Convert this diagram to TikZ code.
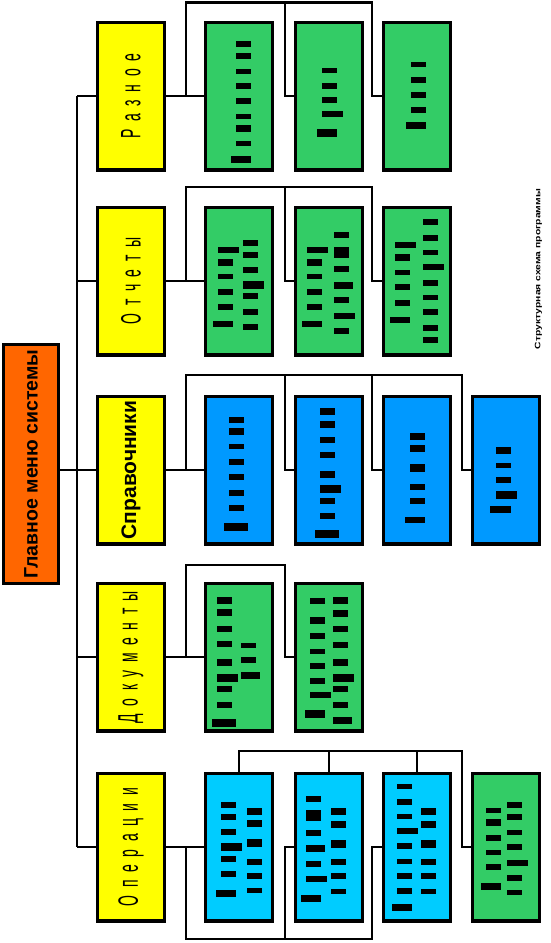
\documentclass[tikz,border=0pt]{standalone}
\usepackage{fontspec}
\usepackage{graphicx}
\setmainfont{Liberation Sans}
\definecolor{cOrange}{HTML}{FF6600}
\definecolor{cYellow}{HTML}{FFFF00}
\definecolor{cGreen}{HTML}{33CC66}
\definecolor{cBlue}{HTML}{0099FF}
\definecolor{cCyan}{HTML}{00CCFF}
\newcommand{\lsp}{\hspace{15pt}}
\begin{document}
\begin{tikzpicture}[x=1pt,y=-1pt,
  box/.style={draw=black, line width=3.2pt, minimum width=66.8pt, minimum height=147.8pt, inner sep=0pt, outer sep=0pt},
  ybox/.style={box, fill=cYellow},
  gbox/.style={box, fill=cGreen},
  bbox/.style={box, fill=cBlue},
  cbox/.style={box, fill=cCyan},
  conn/.style={line width=2.4pt},
  ylab/.style={rotate=90, inner sep=0pt, font=\fontsize{28}{28}\selectfont},
  blab/.style={rotate=90, inner sep=0pt, font=\bfseries\fontsize{21}{21}\selectfont}]
\useasboundingbox (0,0) rectangle (550,943);
\fill[white] (0,0) rectangle (550,943);

% coordinates for connector routing
\coordinate (trk) at (77,0);
\coordinate (xa) at (186,0);
\coordinate (xb) at (285,0);
\coordinate (xc) at (372,0);
\coordinate (xd) at (462,0);
\coordinate (t1) at (0,2.5);
\coordinate (t2) at (0,187);
\coordinate (t3) at (0,375);
\coordinate (t4) at (0,565);
\coordinate (t5) at (0,751);
\coordinate (b5) at (0,939);

% main box
\node[box, line width=2.8pt, fill=cOrange, minimum width=55.2pt, minimum height=239.2pt] (main) at (31,464) {};
\node[rotate=90, inner sep=0pt, font=\bfseries\fontsize{19.5}{19.5}\selectfont] (mainlab) at (main) {Главное меню системы};

% yellow boxes
\node[ybox] (y1) at (131,96) {};
\node[ybox] (y2) at (131,281) {};
\node[ybox] (y3) at (131,470) {};
\node[ybox] (y4) at (131,657) {};
\node[ybox] (y5) at (131,847) {};
\node[ylab] (l1) at (y1) {\scalebox{0.5}[1]{Р\lsp а\lsp з\lsp н\lsp о\lsp е}};
\node[ylab] (l2) at (y2) {\scalebox{0.5}[1]{О\lsp т\lsp ч\lsp е\lsp т\lsp ы}};
\node[blab] (l3) at (y3) {Справочники};
\node[ylab] (l4) at (y4) {\scalebox{0.5}[1]{Д\lsp о\lsp к\lsp у\lsp м\lsp е\lsp н\lsp т\lsp ы}};
\node[ylab] (l5) at (y5) {\scalebox{0.5}[1]{О\lsp п\lsp е\lsp р\lsp а\lsp ц\lsp и\lsp и}};

% sub boxes
\node[gbox] (n11) at (239,96) {};
\node[gbox] (n12) at (329,96) {};
\node[gbox] (n13) at (417,96) {};
\node[gbox] (n21) at (239,281) {};
\node[gbox] (n22) at (329,281) {};
\node[gbox] (n23) at (417,281) {};
\node[bbox] (n31) at (239,470) {};
\node[bbox] (n32) at (329,470) {};
\node[bbox] (n33) at (417,470) {};
\node[bbox] (n34) at (506,470) {};
\node[gbox] (n41) at (239,657) {};
\node[gbox] (n42) at (329,657) {};
\node[cbox] (n51) at (239,847) {};
\node[cbox] (n52) at (329,847) {};
\node[cbox] (n53) at (417,847) {};
\node[gbox] (n54) at (506,847) {};

% trunk
\draw[conn] (main.east |- y3.west) -- (y3.west);
\draw[conn] (y1.west -| trk) -- (y5.west -| trk);
\foreach \k in {1,2,4,5} \draw[conn] (y\k.west -| trk) -- (y\k.west);

% row 1
\draw[conn] (y1.east) -- (n11.west);
\draw[conn] (y1.east -| xa) |- (xc |- t1) |- (n13.west);
\draw[conn] (xb |- t1) |- (n12.west);
% row 2
\draw[conn] (y2.east) -- (n21.west);
\draw[conn] (y2.east -| xa) |- (xc |- t2) |- (n23.west);
\draw[conn] (xb |- t2) |- (n22.west);
% row 3
\draw[conn] (y3.east) -- (n31.west);
\draw[conn] (y3.east -| xa) |- (xd |- t3) |- (n34.west);
\draw[conn] (xb |- t3) |- (n32.west);
\draw[conn] (xc |- t3) |- (n33.west);
% row 4
\draw[conn] (y4.east) -- (n41.west);
\draw[conn] (y4.east -| xa) |- (xb |- t4) |- (n42.west);
% row 5
\draw[conn] (y5.east) -- (n51.west);
\draw[conn] (n51.north) |- (xd |- t5) |- (n54.west);
\draw[conn] (n52.north) -- (n52.north |- t5);
\draw[conn] (n53.north) -- (n53.north |- t5);
\draw[conn] (y5.east -| xa) |- (xc |- b5) |- (n53.west);
\draw[conn] (xb |- b5) |- (n52.west);

% bars (text lines)
\foreach \a/\b/\c/\d in {
 236/251/41/47, 236/251/53/59, 236/251/69/74, 236/251/83/89, 236/251/98/104, 236/251/114/119, 236/251/125/132, 236/251/141/146, 231/251/156/163,
 322/337/68/73, 322/337/83/89, 322/337/97/103, 322/343/111/117, 317/337/129/137,
 411/426/62/67, 411/426/77/83, 411/426/92/98, 411/426/107/113, 406/426/122/129,
 218/239/247/253, 218/233/259/266, 218/233/274/279, 218/233/289/295, 218/233/304/310, 213/233/321/327,
 243/258/240/246, 243/258/252/258, 243/258/267/273, 243/264/281/289, 243/258/293/299, 243/258/309/315, 243/258/324/330,
 307/328/247/253, 307/322/259/266, 307/322/274/279, 307/322/289/295, 307/322/304/310, 302/322/321/327,
 334/349/232/238, 334/349/247/258, 334/349/266/272, 334/353/282/289, 334/349/297/303, 334/355/313/319, 334/349/328/334,
 395/416/242/248, 395/410/254/261, 395/410/270/275, 395/410/284/290, 395/410/300/306, 390/410/317/323,
 423/438/219/225, 423/438/235/241, 423/438/250/255, 423/444/264/270, 423/438/280/286, 423/438/295/300, 423/438/309/315, 423/438/325/331, 423/438/337/343,
 229/244/417/423, 229/244/428/435, 229/244/444/449, 229/244/459/465, 229/244/474/480, 229/244/490/496, 229/244/505/511, 224/248/523/531,
 320/335/408/415, 320/335/421/428, 320/335/437/443, 320/335/452/458, 320/335/471/478, 320/341/485/493, 320/335/498/504, 320/335/513/519, 315/339/530/538,
 410/425/433/440, 410/425/445/452, 410/425/464/472, 410/425/484/490, 410/425/498/504, 405/425/517/523,
 496/511/447/454, 496/511/463/468, 496/511/477/483, 496/517/491/499, 490/511/506/513,
 217/232/597/604, 217/232/609/616, 217/232/626/632, 217/232/641/647, 217/232/659/666, 217/238/674/682, 217/232/686/692, 217/232/702/708, 212/236/719/727,
 241/256/643/648, 241/256/657/663, 241/260/672/679,
 310/325/598/604, 310/325/617/624, 310/325/633/639, 310/325/649/654, 310/325/663/669, 310/325/678/684, 310/331/692/698, 305/325/710/718,
 333/348/597/604, 333/348/610/617, 333/348/626/632, 333/348/642/648, 333/348/659/666, 333/354/674/682, 333/348/686/692, 333/348/702/708, 333/352/717/724,
 221/236/802/808, 221/236/814/820, 221/236/829/835, 221/242/843/851, 221/236/856/862, 221/236/871/877, 216/236/890/897,
 247/262/808/815, 247/262/820/827, 247/262/839/847, 247/262/859/865, 247/262/873/879, 247/262/888/893,
 306/321/796/802, 306/321/810/821, 306/321/830/836, 306/325/845/852, 306/321/861/867, 306/327/876/882, 301/321/895/902,
 331/346/808/815, 331/346/821/828, 331/346/840/848, 331/346/859/865, 331/346/873/879, 331/346/889/894,
 397/412/784/789, 397/412/799/805, 397/412/814/819, 397/418/828/834, 397/412/843/849, 397/412/859/864, 397/412/873/879, 397/412/888/894, 392/412/904/911,
 421/436/808/815, 421/436/821/828, 421/436/840/848, 421/436/859/865, 421/436/873/879, 421/436/889/894,
 486/501/808/813, 486/501/819/826, 486/501/835/841, 486/501/850/855, 486/501/864/870, 481/501/883/890,
 507/522/802/808, 507/522/814/820, 507/522/830/835, 507/522/844/850, 507/528/860/866, 507/522/875/881, 507/522/890/895}
 \fill[black] (\a,\c) rectangle (\b,\d);

% side caption
\node[rotate=90, inner sep=0pt] (side) at (538.5,269) {\resizebox{160pt}{5.5pt}{\fontsize{8}{8}\selectfont\bfseries Структурная схема программы}};
\end{tikzpicture}
\end{document}
